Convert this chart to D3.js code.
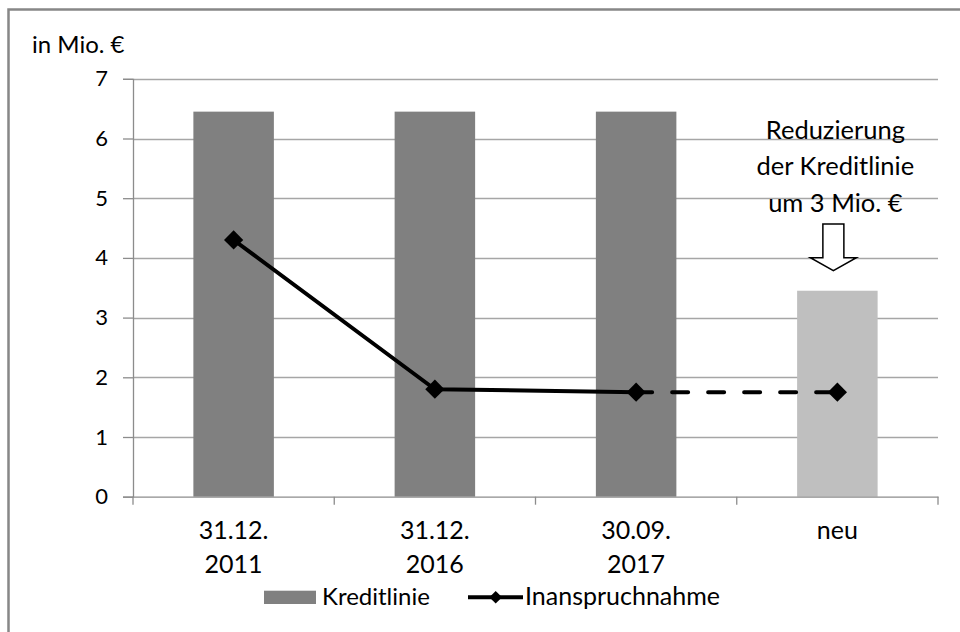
<!DOCTYPE html>
<html><head><meta charset="utf-8">
<script src="https://cdn.jsdelivr.net/npm/d3@7"></script>
<style>
html,body{margin:0;padding:0;background:#fff;}
svg{display:block;}
text{font-family:Lato, "Open Sans", sans-serif;fill:#000;}
</style></head>
<body>
<svg id="chart" width="960" height="632"></svg>
<script>
// ---- data ----
const categories = ["31.12.|2011", "31.12.|2016", "30.09.|2017", "neu"];
const kreditlinie = [6.45, 6.45, 6.45, 3.45];
const inanspruchnahme = [4.30, 1.80, 1.75, 1.75];
const yTicks = [0, 1, 2, 3, 4, 5, 6, 7];
const yUnit = "in Mio. €";
const legendLabels = ["Kreditlinie", "Inanspruchnahme"];
const noteLines = ["Reduzierung", "der Kreditlinie", "um 3 Mio. €"];

const svg = d3.select("#chart");
const W = 960, H = 632;
const plot = {left: 133, right: 938, top: 78.8, bottom: 496.7};

// frame (only top/left visible, cropped)
svg.append("rect").attr("x", 8.5).attr("y", 9.5).attr("width", W + 20).attr("height", H + 20)
  .attr("fill", "none").attr("stroke", "#878787").attr("stroke-width", 2.5);

const x = d3.scaleBand().domain(categories).range([plot.left, plot.right]).padding(0);
const y = d3.scaleLinear().domain([0, 7]).range([plot.bottom, plot.top]);
const bw = x.bandwidth();
const cx = c => x(c) + bw / 2;

// gridlines
svg.append("g").selectAll("line").data(yTicks.filter(d => d > 0)).join("line")
  .attr("x1", plot.left).attr("x2", plot.right)
  .attr("y1", d => Math.round(y(d)) + 0.5).attr("y2", d => Math.round(y(d)) + 0.5)
  .attr("stroke", "#a6a6a6").attr("stroke-width", 1.3);

// y axis
const yAxis = svg.append("g").attr("transform", `translate(${plot.left},0)`)
  .call(d3.axisLeft(y).tickValues(yTicks).tickSize(10).tickPadding(15).tickFormat(d3.format("d")));
yAxis.select(".domain").attr("stroke", "#8c8c8c").attr("stroke-width", 1.3);
yAxis.selectAll(".tick line").attr("stroke", "#8c8c8c").attr("stroke-width", 1.3);
yAxis.selectAll(".tick text").attr("font-family", "Lato").attr("font-size", 22).attr("fill", "#000");

// bars
svg.append("g").selectAll("rect").data(categories).join("rect")
  .attr("x", c => x(c) + bw * 0.3)
  .attr("width", bw * 0.4)
  .attr("y", (c, i) => y(kreditlinie[i]))
  .attr("height", (c, i) => y(0) - y(kreditlinie[i]))
  .attr("fill", (c, i) => i === categories.length - 1 ? "#bfbfbf" : "#808080");

// x axis
const xAxis = svg.append("g").attr("transform", `translate(0,${plot.bottom})`)
  .call(d3.axisBottom(x).tickSize(0).tickFormat(""));
xAxis.select(".domain").attr("stroke", "#8c8c8c").attr("stroke-width", 1.3);
// boundary ticks
const bounds = categories.map(c => x(c)).concat([plot.right]);
svg.append("g").selectAll("line").data(bounds).join("line")
  .attr("x1", d => d).attr("x2", d => d)
  .attr("y1", plot.bottom).attr("y2", plot.bottom + 8)
  .attr("stroke", "#8c8c8c").attr("stroke-width", 1.3);
// category labels
const catG = svg.append("g");
categories.forEach(c => {
  const t = catG.append("text").attr("text-anchor", "middle").attr("font-size", 25);
  c.split("|").forEach((part, j) => {
    t.append("tspan").attr("x", cx(c)).attr("y", plot.bottom + 42.5 + j * 33.3).text(part);
  });
});

// line series
const pts = categories.map((c, i) => [cx(c), y(inanspruchnahme[i])]);
const line = d3.line();
svg.append("path").attr("d", line(pts.slice(0, 3)))
  .attr("fill", "none").attr("stroke", "#000").attr("stroke-width", 4).attr("stroke-linejoin", "round");
svg.append("path").attr("d", line(pts.slice(2, 4)))
  .attr("fill", "none").attr("stroke", "#000").attr("stroke-width", 4)
  .attr("stroke-dasharray", "16,20").attr("stroke-linecap", "round");
const diamond = d3.symbol().type(d3.symbolSquare).size(185);
svg.append("g").selectAll("path").data(pts).join("path")
  .attr("d", diamond)
  .attr("transform", d => `translate(${d[0]},${d[1]}) rotate(45)`)
  .attr("fill", "#000");

// unit label
svg.append("text").attr("x", 32).attr("y", 53.3).attr("font-size", 24).text(yUnit);

// annotation
const last = categories[categories.length - 1];
const ax = cx(last) - 4;
const note = svg.append("text").attr("text-anchor", "middle").attr("font-size", 25.5);
noteLines.forEach((l, j) => {
  note.append("tspan").attr("x", ax + 2).attr("y", 139 + j * 36.4).text(l);
});
const barTop = y(kreditlinie[kreditlinie.length - 1]);
const tipY = barTop - 20, headY = tipY - 13, topY = tipY - 46.7;
svg.append("path")
  .attr("d", `M${ax - 10.5},${topY} L${ax + 10.5},${topY} L${ax + 10.5},${headY} L${ax + 23},${headY} L${ax},${tipY} L${ax - 23},${headY} L${ax - 10.5},${headY} Z`)
  .attr("fill", "#fff").attr("stroke", "#000").attr("stroke-width", 1.5).attr("stroke-linejoin", "miter");

// legend
const lg = svg.append("g");
lg.append("rect").attr("x", 264).attr("y", 590.7).attr("width", 52).attr("height", 13.3).attr("fill", "#808080");
lg.append("text").attr("x", 322).attr("y", 605).attr("font-size", 24).text(legendLabels[0]);
lg.append("line").attr("x1", 468).attr("x2", 523).attr("y1", 597.3).attr("y2", 597.3)
  .attr("stroke", "#000").attr("stroke-width", 4);
lg.append("path").attr("d", d3.symbol().type(d3.symbolSquare).size(80))
  .attr("transform", "translate(495.7,597.3) rotate(45)").attr("fill", "#000");
lg.append("text").attr("x", 525).attr("y", 605).attr("font-size", 25).text(legendLabels[1]);
</script>
</body></html>
